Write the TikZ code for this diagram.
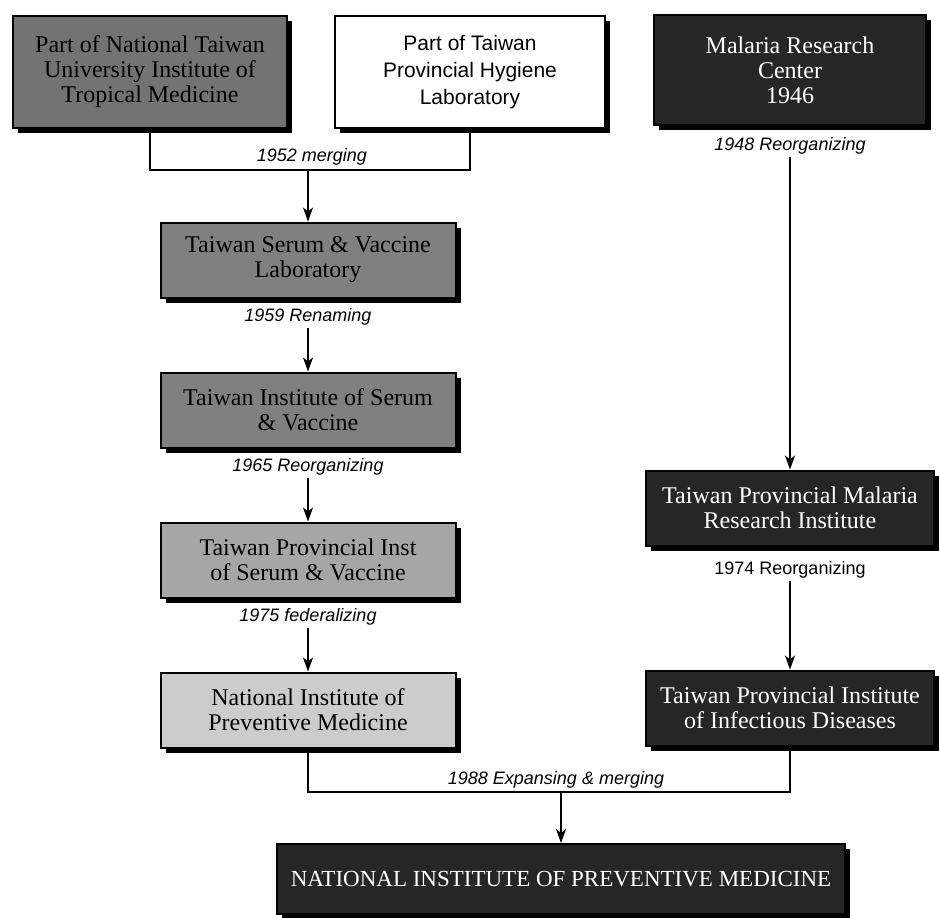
\documentclass[tikz,border=0pt]{standalone}
\usepackage{fontspec}
\setmainfont{Liberation Serif}
\setsansfont{Liberation Sans}
\usetikzlibrary{positioning,arrows.meta,shadows}
\tikzset{
  >={Stealth[length=7pt, width=5pt, inset=2pt]},
  unit/.style={draw, rectangle, line width=1pt, inner sep=2pt, align=center,
    font=\fontsize{12}{12.5}\selectfont,
    drop shadow={shadow xshift=2.5pt, shadow yshift=-2.5pt, opacity=1, fill=black}},
  small unit/.style={unit, minimum width=147.5pt, minimum height=37.5pt},
  dark unit/.style={unit, fill=black!85, text=white},
  event/.style={font=\sffamily\itshape\fontsize{9}{10}\selectfont, inner sep=1pt},
}

\begin{document}
\begin{tikzpicture}[->, line width=0.8pt, node distance=75pt]
    \useasboundingbox (0pt,0pt) rectangle (470pt,-458.5pt);
    % origins
    \node[unit, fill=black!55, minimum width=137pt, minimum height=56pt] (ntu) at (75pt,-36pt) {Part of National Taiwan\\University Institute of\\Tropical Medicine};
    \node[unit, fill=white, font=\sffamily\fontsize{10.5}{13.5}\selectfont, minimum width=135pt, minimum height=56pt] (tphl) at (235pt,-36pt) {Part of Taiwan\\Provincial Hygiene\\Laboratory};
    \node[dark unit, minimum width=136pt, minimum height=55pt] (mrc) at (395pt,-35pt) {Malaria Research\\Center\\1946};
    % left column
    \node[small unit, fill=black!50] (tsvl) at (154pt,-130pt) {Taiwan Serum \& Vaccine\\Laboratory};
    \node[small unit, fill=black!50] (tisv) [below of=tsvl] {Taiwan Institute of Serum\\\& Vaccine};
    \node[small unit, fill=black!35] (tpisv) [below of=tisv] {Taiwan Provincial Inst\\of Serum \& Vaccine};
    \node[small unit, fill=black!20] (nipm) [below of=tpisv] {National Institute of\\Preventive Medicine};
    % right column
    \node[dark unit, minimum width=144pt, minimum height=37.5pt] (tpmri) at (395pt,-254pt) {Taiwan Provincial Malaria\\Research Institute};
    \node[dark unit, minimum width=144pt, minimum height=37.5pt] (tpiid) [node distance=100pt, below of=tpmri] {Taiwan Provincial Institute\\of Infectious Diseases};
    % today
    \node[dark unit, font=\fontsize{11.5}{12}\selectfont, minimum width=284pt, minimum height=35pt] (final) at (280.5pt,-439.5pt) {NATIONAL INSTITUTE OF PREVENTIVE MEDICINE};
    % events
    \node[event] (m52) at (156pt,-78.5pt) {1952 merging};
    \node[event, below=3.5pt of tsvl] (r59) {1959 Renaming};
    \node[event, below=3.5pt of tisv] (r65) {1965 Reorganizing};
    \node[event, below=3.5pt of tpisv] (f75) {1975 federalizing};
    \node[event, below=4.5pt of mrc] (r48) {1948 Reorganizing};
    \node[event, font=\sffamily\fontsize{9}{10}\selectfont, below=6pt of tpmri] (r74) {1974 Reorganizing};
    \node[event] (m88) at (278pt,-390pt) {1988 Expansing \& merging};
    \coordinate (j52) at (154pt,-85pt);
    \coordinate (j88) at (280.5pt,-396pt);
    \draw[-] (ntu.south) |- (j52) -| (tphl.south);
    \draw (j52) -- (tsvl);
    \draw (r59) -- (tisv);
    \draw (r65) -- (tpisv);
    \draw (f75) -- (nipm);
    \draw (r48) -- (tpmri);
    \draw (r74) -- (tpiid);
    \draw[-] (nipm.south) |- (j88) -| (tpiid.south);
    \draw (j88) -- (final);
\end{tikzpicture}
\end{document}
